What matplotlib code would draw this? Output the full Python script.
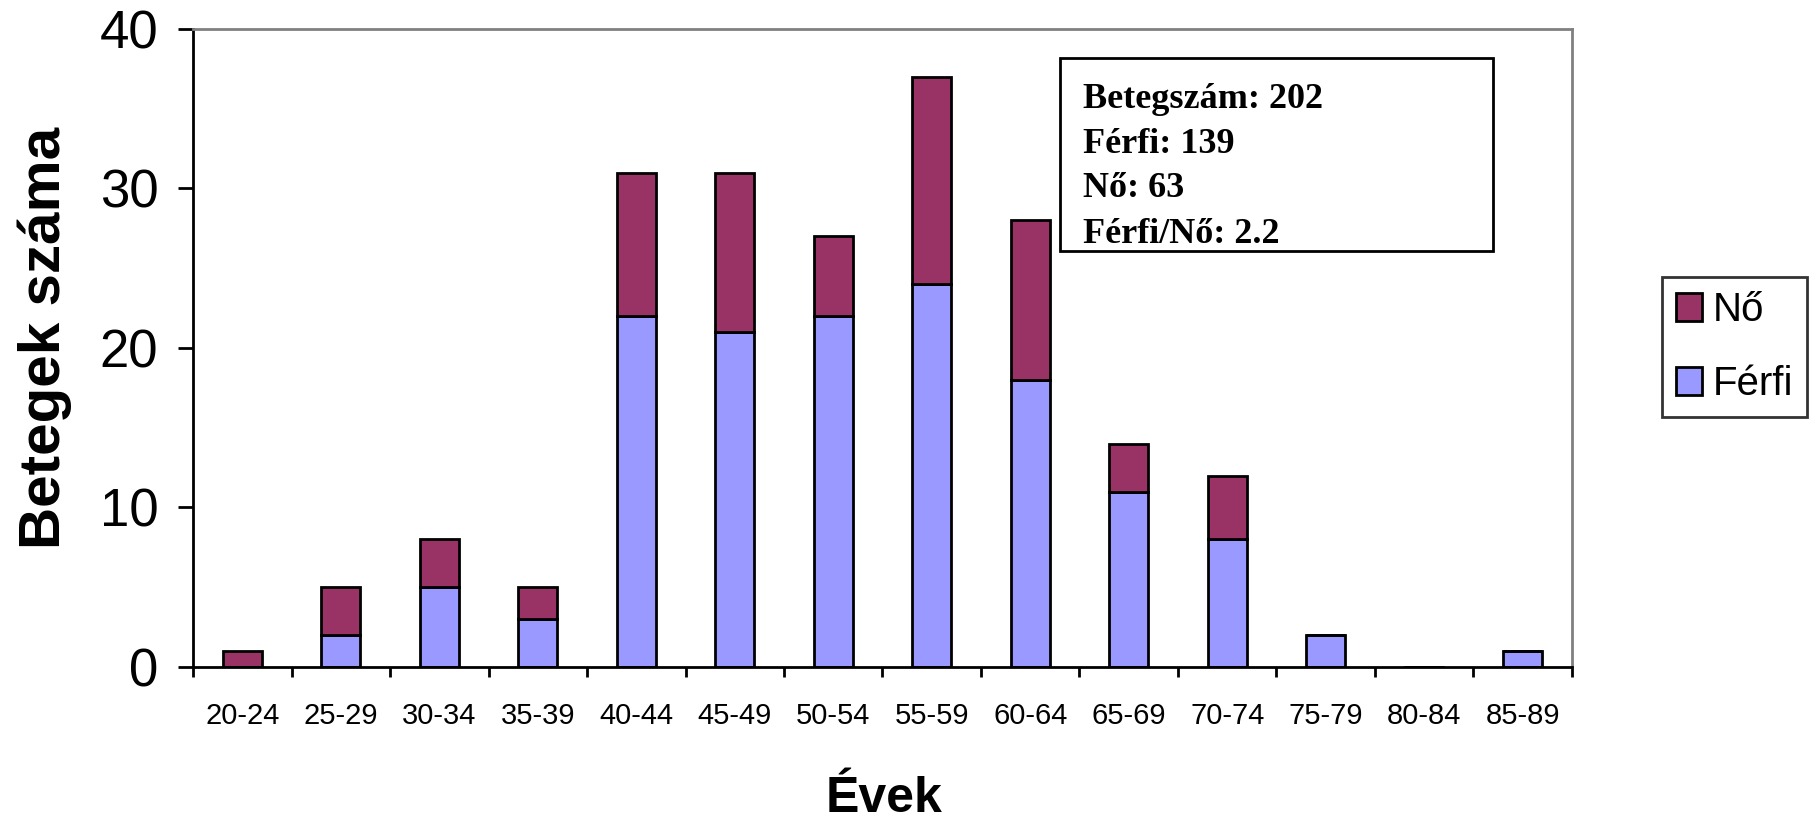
import matplotlib.pyplot as plt
from matplotlib import font_manager
from matplotlib.patches import Rectangle
import numpy as np

age_groups = ["20-24", "25-29", "30-34", "35-39", "40-44", "45-49", "50-54",
              "55-59", "60-64", "65-69", "70-74", "75-79", "80-84", "85-89"]
ferfi = [0, 2, 5, 3, 22, 21, 22, 24, 18, 11, 8, 2, 0, 1]
no = [1, 3, 3, 2, 9, 10, 5, 13, 10, 3, 4, 0, 0, 0]
y_ticks = [0, 10, 20, 30, 40]
info_lines = ["Betegszám: 202", "Férfi: 139", "Nő: 63", "Férfi/Nő: 2.2"]

plt.rcParams['font.family'] = ['Liberation Sans', 'DejaVu Sans']

# condensed sans if the system has one
names = {f.name for f in font_manager.fontManager.ttflist}
has_narrow = 'Liberation Sans Narrow' in names
if has_narrow:
    narrow = ['Liberation Sans Narrow', 'Liberation Sans', 'DejaVu Sans']
    xtick_fs, ylab_fs, leg_fs = 24, 47, 33
else:
    narrow = ['Liberation Sans', 'DejaVu Sans']
    xtick_fs, ylab_fs, leg_fs = 21, 42, 29

fig = plt.figure(figsize=(18.16, 8.21), dpi=100)
ax = fig.add_axes([0.1063, 0.1876, 0.7593, 0.7771])

x = np.arange(len(age_groups))
b_f = ax.bar(x, ferfi, width=0.4, color="#9999FF", edgecolor="black",
             linewidth=2, label="Férfi")
b_n = ax.bar(x, no, width=0.4, bottom=ferfi, color="#993366",
             edgecolor="black", linewidth=2, label="Nő")

ax.set_xlim(-0.5, len(age_groups) - 0.5)
ax.set_ylim(0, 40)
ax.set_yticks(y_ticks)
ax.tick_params(axis='y', labelsize=38, length=11, width=2, direction='out', pad=14)

ax.set_xticks(x)
ax.set_xticklabels(age_groups, fontsize=xtick_fs, family=narrow)
ax.set_xticks(np.arange(len(age_groups) + 1) - 0.5, minor=True)
ax.tick_params(axis='x', which='major', length=0, pad=25)
ax.tick_params(axis='x', which='minor', length=7, width=2, direction='out')

for s in ['left', 'bottom']:
    ax.spines[s].set_color('black')
    ax.spines[s].set_linewidth(2)
for s in ['top', 'right']:
    ax.spines[s].set_color('#808080')
    ax.spines[s].set_linewidth(2)

fig.text(0.487, 0.011, "Évek", fontsize=36, fontweight='bold',
         ha='center', va='baseline')
fig.text(0.0245, 0.588, "Betegek száma", fontsize=ylab_fs, fontweight='bold',
         family=narrow, rotation=90, ha='center', va='center')

leg = ax.legend(handles=[b_n, b_f], loc='upper left',
                bbox_to_anchor=(0.9152, 0.6626), bbox_transform=fig.transFigure,
                prop={'family': narrow, 'size': leg_fs},
                frameon=True, fancybox=False, edgecolor='black',
                handlelength=0.65, handleheight=0.7, handletextpad=0.25,
                borderpad=0.35, labelspacing=0.9, borderaxespad=0)
leg.get_frame().set_linewidth(2)

# info box
fig.patches.append(Rectangle((0.5837, 0.6943), 0.2384, 0.2351,
                             transform=fig.transFigure, fill=False,
                             edgecolor='black', linewidth=2))
baselines = [0.8685, 0.8136, 0.7600, 0.7040]
for yb, line in zip(baselines, info_lines):
    fig.text(0.5963, yb, line, fontsize=26, fontweight='bold',
             family=['Liberation Serif', 'DejaVu Serif'], va='baseline', ha='left')

plt.savefig('out.png', dpi=100)
